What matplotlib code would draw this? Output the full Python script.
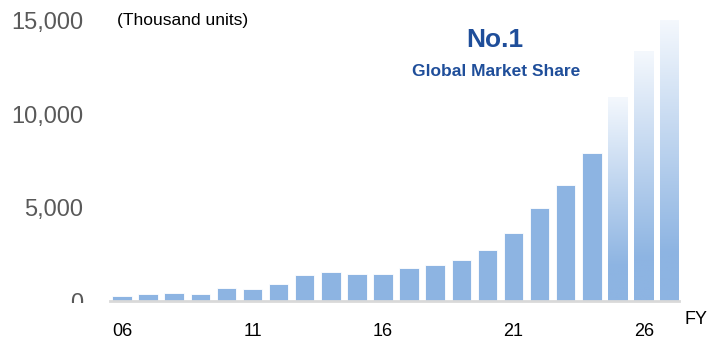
import numpy as np
import matplotlib
matplotlib.use("Agg")
import matplotlib.pyplot as plt
from matplotlib import font_manager
from matplotlib.colors import LinearSegmentedColormap
from matplotlib.patches import Rectangle

# data
years = ["06", "07", "08", "09", "10", "11", "12", "13", "14", "15", "16",
         "17", "18", "19", "20", "21", "22", "23", "24", "25", "26", "27"]
units = [250, 380, 430, 380, 700, 630, 890, 1410, 1540, 1450, 1470,
         1750, 1930, 2180, 2730, 3640, 5000, 6200, 7950, 10900, 13350, 15030]
forecast_from = 19   # index of first forecast bar (FY25)
tick_labels = ["06", "11", "16", "21", "26"]
ytick_values = [0, 5000, 10000, 15000]

bar_color = "#8DB4E2"
navy = "#1F4E9A"

names = {f.name for f in font_manager.fontManager.ttflist}
base = "Liberation Sans" if "Liberation Sans" in names else "DejaVu Sans"
narrow = "Liberation Sans Narrow" if "Liberation Sans Narrow" in names else base
plt.rcParams["font.family"] = [base, "DejaVu Sans"]

W, H = 710, 339
fig = plt.figure(figsize=(W / 100, H / 100), dpi=100)

# axes placed in pixels: baseline y=301, x from 110 to 679
px_per_unit = 280 / 15000.0
ymax = 15500
ax_left, ax_right, base_y = 110, 679, 301
ax = fig.add_axes([ax_left / W, (H - base_y) / H, (ax_right - ax_left) / W,
                   ymax * px_per_unit / H])

x = np.arange(len(years))
width = 0.75
ax.bar(x[:forecast_from], units[:forecast_from], width=width,
       color=bar_color, edgecolor="white", linewidth=0.6, zorder=2)

# forecast bars: solid at the bottom fading to near white at the top
cmap = LinearSegmentedColormap.from_list(
    "fade", [(0.0, bar_color), (0.17, bar_color), (1.0, "#F4F8FD")])
grad = np.linspace(0, 1, 256).reshape(-1, 1)
for xi, h in zip(x[forecast_from:], units[forecast_from:]):
    ax.imshow(grad, extent=[xi - width / 2, xi + width / 2, 0, h],
              origin="lower", aspect="auto", cmap=cmap, zorder=2)

xlo = (ax_left - 122) / 26.1
xhi = (ax_right - 122) / 26.1
ax.set_xlim(xlo, xhi)
ax.set_ylim(0, ymax)

for s in ["top", "right", "left"]:
    ax.spines[s].set_visible(False)
ax.spines["bottom"].set_color("#D9D9D9")
ax.spines["bottom"].set_linewidth(2)
ax.spines["bottom"].set_zorder(3)

ax.set_xticks([years.index(t) for t in tick_labels])
ax.set_xticklabels(tick_labels, fontsize=13, color="black")
ax.tick_params(axis="x", length=0, pad=15.5)
ax.set_yticks(ytick_values)
ax.set_yticklabels([f"{v:,}" for v in ytick_values], fontsize=17, color="#595959")
ax.tick_params(axis="y", length=0, pad=19.5)
ax.patch.set_visible(False)

# the "0" label is partly hidden in the reference
fig.patches.append(Rectangle((55 / W, 0), 45 / W, (H - 303) / H,
                             transform=fig.transFigure, facecolor="white",
                             edgecolor="none", zorder=5))

fig.text(117 / W, 1 - 20 / H, "(Thousand units)", fontsize=12.5,
         family=[narrow, base], color="black", va="center", ha="left")
fig.text(685 / W, 1 - 320 / H, "FY", fontsize=13, color="black",
         va="center", ha="left")
fig.text(495 / W, 1 - 40 / H, "No.1", fontsize=19, fontweight="bold",
         family=[narrow, base], color=navy, va="center", ha="center")
fig.text(496 / W, 1 - 71 / H, "Global Market Share", fontsize=12.5,
         fontweight="bold", family=[narrow, base], color=navy,
         va="center", ha="center")

fig.savefig("out.png", dpi=100)
